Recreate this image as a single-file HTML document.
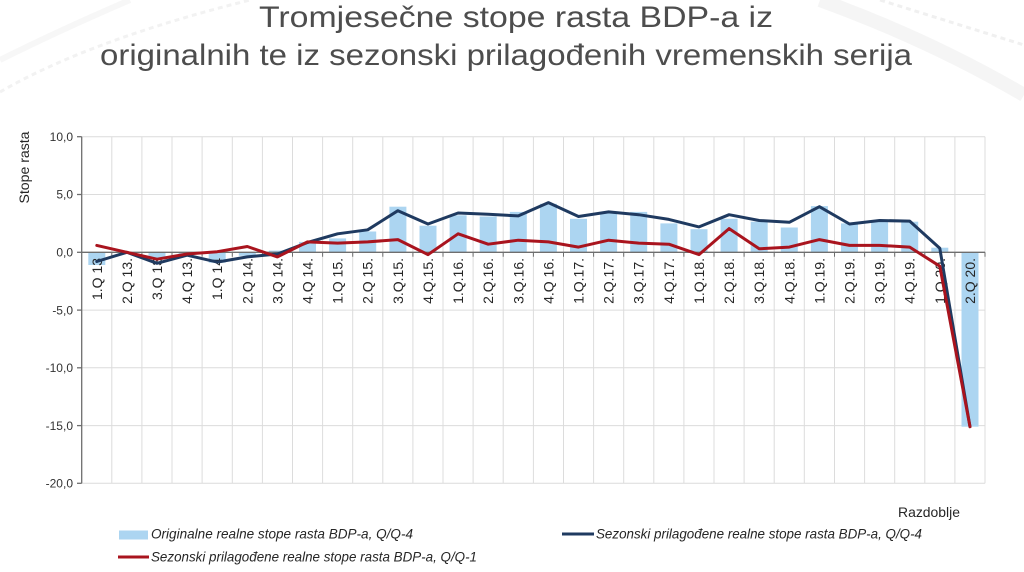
<!DOCTYPE html>
<html>
<head>
<meta charset="utf-8">
<style>
html,body{margin:0;padding:0;background:#ffffff;}
svg{display:block;}
text{font-family:"Liberation Sans",Arial,sans-serif;}
</style>
</head>
<body>
<svg width="1024" height="572" viewBox="0 0 1024 572" xmlns="http://www.w3.org/2000/svg">
  <rect width="1024" height="572" fill="#ffffff"/>
  <!-- faint background swooshes -->
  <path d="M0,92 Q90,40 250,0" fill="none" stroke="#f2f2f2" stroke-width="3" stroke-dasharray="5,4"/>
  <path d="M0,60 Q60,30 130,0" fill="none" stroke="#f7f7f7" stroke-width="6"/>
  <path d="M820,0 Q930,40 1024,95" fill="none" stroke="#f5f5f5" stroke-width="14"/>
  <path d="M880,0 Q960,25 1024,45" fill="none" stroke="#f0f0f0" stroke-width="3" stroke-dasharray="5,4"/>

  <!-- title -->
  <text x="259" y="27" font-size="30" fill="#4d4d4d" textLength="514" lengthAdjust="spacingAndGlyphs">Tromjesečne stope rasta BDP-a iz</text>
  <text x="100" y="65" font-size="30" fill="#4d4d4d" textLength="812" lengthAdjust="spacingAndGlyphs">originalnih te iz sezonski prilagođenih vremenskih serija</text>

  <!-- gridlines -->
  <g stroke="#dcdcdc" stroke-width="1">
    <line x1="81.7" y1="136.7" x2="985" y2="136.7"/>
    <line x1="81.7" y1="194.5" x2="985" y2="194.5"/>
    <line x1="81.7" y1="310.1" x2="985" y2="310.1"/>
    <line x1="81.7" y1="367.8" x2="985" y2="367.8"/>
    <line x1="81.7" y1="425.6" x2="985" y2="425.6"/>
    <line x1="81.7" y1="483.3" x2="985" y2="483.3"/>
    <line x1="111.8" y1="136.7" x2="111.8" y2="483.3"/>
    <line x1="141.9" y1="136.7" x2="141.9" y2="483.3"/>
    <line x1="172.0" y1="136.7" x2="172.0" y2="483.3"/>
    <line x1="202.1" y1="136.7" x2="202.1" y2="483.3"/>
    <line x1="232.3" y1="136.7" x2="232.3" y2="483.3"/>
    <line x1="262.4" y1="136.7" x2="262.4" y2="483.3"/>
    <line x1="292.5" y1="136.7" x2="292.5" y2="483.3"/>
    <line x1="322.6" y1="136.7" x2="322.6" y2="483.3"/>
    <line x1="352.7" y1="136.7" x2="352.7" y2="483.3"/>
    <line x1="382.8" y1="136.7" x2="382.8" y2="483.3"/>
    <line x1="412.9" y1="136.7" x2="412.9" y2="483.3"/>
    <line x1="443.0" y1="136.7" x2="443.0" y2="483.3"/>
    <line x1="473.1" y1="136.7" x2="473.1" y2="483.3"/>
    <line x1="503.2" y1="136.7" x2="503.2" y2="483.3"/>
    <line x1="533.4" y1="136.7" x2="533.4" y2="483.3"/>
    <line x1="563.5" y1="136.7" x2="563.5" y2="483.3"/>
    <line x1="593.6" y1="136.7" x2="593.6" y2="483.3"/>
    <line x1="623.7" y1="136.7" x2="623.7" y2="483.3"/>
    <line x1="653.8" y1="136.7" x2="653.8" y2="483.3"/>
    <line x1="683.9" y1="136.7" x2="683.9" y2="483.3"/>
    <line x1="714.0" y1="136.7" x2="714.0" y2="483.3"/>
    <line x1="744.1" y1="136.7" x2="744.1" y2="483.3"/>
    <line x1="774.2" y1="136.7" x2="774.2" y2="483.3"/>
    <line x1="804.3" y1="136.7" x2="804.3" y2="483.3"/>
    <line x1="834.5" y1="136.7" x2="834.5" y2="483.3"/>
    <line x1="864.6" y1="136.7" x2="864.6" y2="483.3"/>
    <line x1="894.7" y1="136.7" x2="894.7" y2="483.3"/>
    <line x1="924.8" y1="136.7" x2="924.8" y2="483.3"/>
    <line x1="954.9" y1="136.7" x2="954.9" y2="483.3"/>
    <line x1="985.0" y1="136.7" x2="985.0" y2="483.3"/>
  </g>

  <!-- bars -->
  <g fill="#acd5f1">
    <rect x="88.3" y="252.3" width="17" height="12.7"/>
    <rect x="118.4" y="252.3" width="17" height="1.2"/>
    <rect x="148.5" y="252.3" width="17" height="5.8"/>
    <rect x="178.6" y="252.3" width="17" height="2.3"/>
    <rect x="208.7" y="252.3" width="17" height="10.4"/>
    <rect x="238.8" y="252.3" width="17" height="3.5"/>
    <rect x="268.9" y="250.6" width="17" height="1.7"/>
    <rect x="299.0" y="241.9" width="17" height="10.4"/>
    <rect x="329.1" y="238.4" width="17" height="13.9"/>
    <rect x="359.2" y="231.5" width="17" height="20.8"/>
    <rect x="389.4" y="206.7" width="17" height="45.6"/>
    <rect x="419.5" y="225.7" width="17" height="26.6"/>
    <rect x="449.6" y="215.3" width="17" height="37.0"/>
    <rect x="479.7" y="216.5" width="17" height="35.8"/>
    <rect x="509.8" y="211.9" width="17" height="40.4"/>
    <rect x="539.9" y="203.8" width="17" height="48.5"/>
    <rect x="570.0" y="218.8" width="17" height="33.5"/>
    <rect x="600.1" y="213.0" width="17" height="39.3"/>
    <rect x="630.2" y="211.9" width="17" height="40.4"/>
    <rect x="660.4" y="223.4" width="17" height="28.9"/>
    <rect x="690.5" y="229.2" width="17" height="23.1"/>
    <rect x="720.6" y="218.8" width="17" height="33.5"/>
    <rect x="750.7" y="221.7" width="17" height="30.6"/>
    <rect x="780.8" y="227.5" width="17" height="24.8"/>
    <rect x="810.9" y="206.1" width="17" height="46.2"/>
    <rect x="841.0" y="223.4" width="17" height="28.9"/>
    <rect x="871.1" y="220.0" width="17" height="32.3"/>
    <rect x="901.2" y="221.7" width="17" height="30.6"/>
    <rect x="931.3" y="247.7" width="17" height="4.6"/>
    <rect x="961.5" y="252.3" width="17" height="174.4"/>
  </g>

  <!-- category labels -->
  <g font-size="14" fill="#262626" text-anchor="end">
    <text transform="translate(101.8,258) rotate(-90)">1.Q 13</text>
    <text transform="translate(131.9,258) rotate(-90)">2.Q 13.</text>
    <text transform="translate(162.0,258) rotate(-90)">3.Q 13</text>
    <text transform="translate(192.1,258) rotate(-90)">4.Q 13.</text>
    <text transform="translate(222.2,258) rotate(-90)">1.Q 14</text>
    <text transform="translate(252.3,258) rotate(-90)">2.Q 14.</text>
    <text transform="translate(282.4,258) rotate(-90)">3.Q 14.</text>
    <text transform="translate(312.5,258) rotate(-90)">4.Q 14.</text>
    <text transform="translate(342.6,258) rotate(-90)">1.Q 15.</text>
    <text transform="translate(372.7,258) rotate(-90)">2.Q 15.</text>
    <text transform="translate(402.9,258) rotate(-90)">3.Q.15.</text>
    <text transform="translate(433.0,258) rotate(-90)">4.Q.15.</text>
    <text transform="translate(463.1,258) rotate(-90)">1.Q.16.</text>
    <text transform="translate(493.2,258) rotate(-90)">2.Q.16.</text>
    <text transform="translate(523.3,258) rotate(-90)">3.Q.16.</text>
    <text transform="translate(553.4,258) rotate(-90)">4.Q 16.</text>
    <text transform="translate(583.5,258) rotate(-90)">1.Q.17.</text>
    <text transform="translate(613.6,258) rotate(-90)">2.Q.17.</text>
    <text transform="translate(643.7,258) rotate(-90)">3.Q.17.</text>
    <text transform="translate(673.9,258) rotate(-90)">4.Q.17.</text>
    <text transform="translate(704.0,258) rotate(-90)">1.Q.18.</text>
    <text transform="translate(734.1,258) rotate(-90)">2.Q.18.</text>
    <text transform="translate(764.2,258) rotate(-90)">3.Q.18.</text>
    <text transform="translate(794.3,258) rotate(-90)">4.Q.18.</text>
    <text transform="translate(824.4,258) rotate(-90)">1.Q.19.</text>
    <text transform="translate(854.5,258) rotate(-90)">2.Q.19.</text>
    <text transform="translate(884.6,258) rotate(-90)">3.Q.19.</text>
    <text transform="translate(914.7,258) rotate(-90)">4.Q.19.</text>
    <text transform="translate(944.8,258) rotate(-90)">1.Q.20.</text>
    <text transform="translate(975.0,258) rotate(-90)">2.Q 20.</text>
  </g>

  <!-- axes -->
  <g stroke="#6e6e6e" stroke-width="1.3">
    <line x1="81.7" y1="136.7" x2="81.7" y2="483.3"/>
    <line x1="77" y1="136.7" x2="81.7" y2="136.7"/>
    <line x1="77" y1="194.5" x2="81.7" y2="194.5"/>
    <line x1="77" y1="252.3" x2="81.7" y2="252.3"/>
    <line x1="77" y1="310.1" x2="81.7" y2="310.1"/>
    <line x1="77" y1="367.8" x2="81.7" y2="367.8"/>
    <line x1="77" y1="425.6" x2="81.7" y2="425.6"/>
    <line x1="77" y1="483.3" x2="81.7" y2="483.3"/>
    <line x1="81.7" y1="252.3" x2="985" y2="252.3"/>
  </g>
  <g stroke="#6e6e6e" stroke-width="1">
    <path d="M111.8,252.3v4.5M141.9,252.3v4.5M172.0,252.3v4.5M202.1,252.3v4.5M232.3,252.3v4.5M262.4,252.3v4.5M292.5,252.3v4.5M322.6,252.3v4.5M352.7,252.3v4.5M382.8,252.3v4.5M412.9,252.3v4.5M443.0,252.3v4.5M473.1,252.3v4.5M503.2,252.3v4.5M533.4,252.3v4.5M563.5,252.3v4.5M593.6,252.3v4.5M623.7,252.3v4.5M653.8,252.3v4.5M683.9,252.3v4.5M714.0,252.3v4.5M744.1,252.3v4.5M774.2,252.3v4.5M804.3,252.3v4.5M834.5,252.3v4.5M864.6,252.3v4.5M894.7,252.3v4.5M924.8,252.3v4.5M954.9,252.3v4.5M985.0,252.3v4.5"/>
  </g>

  <!-- y labels -->
  <g font-size="12" fill="#333333" text-anchor="end">
    <text x="73" y="140.9">10,0</text>
    <text x="73" y="198.7">5,0</text>
    <text x="73" y="256.5">0,0</text>
    <text x="73" y="314.3">-5,0</text>
    <text x="73" y="372.0">-10,0</text>
    <text x="73" y="429.8">-15,0</text>
    <text x="73" y="487.5">-20,0</text>
  </g>
  <text transform="translate(29,167.5) rotate(-90)" font-size="13.5" fill="#262626" text-anchor="middle" textLength="72" lengthAdjust="spacingAndGlyphs">Stope rasta</text>

  <!-- navy line -->
  <polyline fill="none" stroke="#1f3a60" stroke-width="3" stroke-linejoin="round" stroke-linecap="round"
    points="96.8,261.5 126.9,252.3 157.0,263.3 187.1,255.2 217.2,262.1 247.3,256.9 277.4,254.0 307.5,242.5 337.6,233.8 367.7,229.8 397.9,210.7 428.0,224.0 458.1,213.0 488.2,214.2 518.3,215.9 548.4,202.6 578.5,216.5 608.6,211.9 638.7,214.7 668.9,219.4 699.0,226.9 729.1,214.7 759.2,220.5 789.3,222.3 819.4,206.7 849.5,224.0 879.6,220.5 909.7,221.1 939.8,248.3 970.0,426.7"/>
  <!-- red line -->
  <polyline fill="none" stroke="#a9141e" stroke-width="3" stroke-linejoin="round" stroke-linecap="round"
    points="96.8,245.4 126.9,252.3 157.0,259.2 187.1,254.0 217.2,251.7 247.3,246.5 277.4,256.9 307.5,241.9 337.6,243.1 367.7,241.9 397.9,239.6 428.0,254.6 458.1,233.8 488.2,244.2 518.3,240.2 548.4,241.9 578.5,247.1 608.6,240.2 638.7,243.1 668.9,244.2 699.0,254.6 729.1,228.6 759.2,248.8 789.3,247.1 819.4,239.6 849.5,245.4 879.6,245.4 909.7,247.1 939.8,266.2 970.0,426.7"/>

  <!-- axis title -->
  <text x="898" y="517" font-size="14" fill="#262626" textLength="62" lengthAdjust="spacingAndGlyphs">Razdoblje</text>

  <!-- legend -->
  <rect x="119" y="530.5" width="29" height="9" fill="#acd5f1"/>
  <text x="151" y="538.5" font-size="14" font-style="italic" fill="#262626" textLength="262" lengthAdjust="spacingAndGlyphs">Originalne realne stope rasta BDP-a, Q/Q-4</text>
  <line x1="118" y1="557" x2="149" y2="557" stroke="#a9141e" stroke-width="3"/>
  <text x="151" y="561.5" font-size="14" font-style="italic" fill="#262626" textLength="326" lengthAdjust="spacingAndGlyphs">Sezonski prilagođene realne stope rasta BDP-a, Q/Q-1</text>
  <line x1="562" y1="534" x2="594" y2="534" stroke="#1f3a60" stroke-width="3"/>
  <text x="596" y="538.5" font-size="14" font-style="italic" fill="#262626" textLength="326" lengthAdjust="spacingAndGlyphs">Sezonski prilagođene realne stope rasta BDP-a, Q/Q-4</text>
</svg>
</body>
</html>
